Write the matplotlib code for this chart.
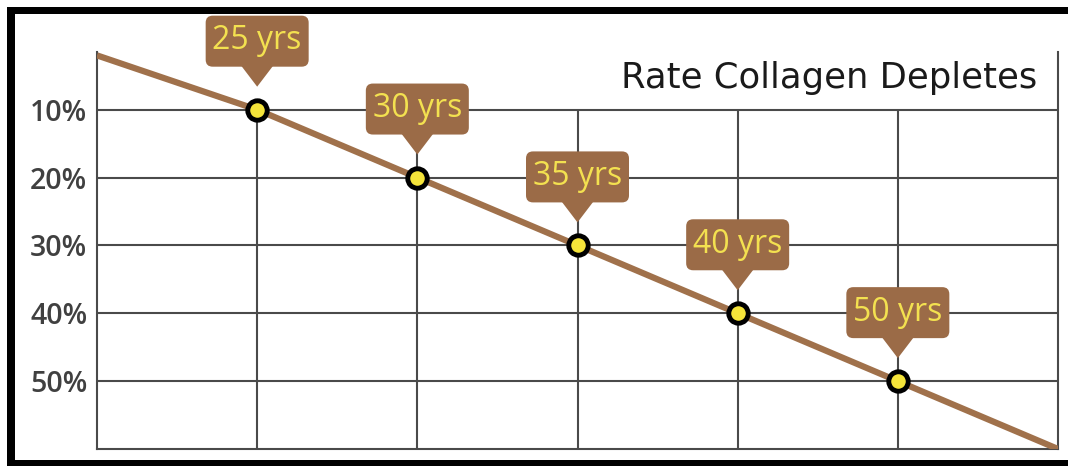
import numpy as np
import matplotlib
matplotlib.use("Agg")
import matplotlib.pyplot as plt
import matplotlib.transforms as mtransforms
from matplotlib.patches import Rectangle, FancyBboxPatch, Polygon

# data
line_x = [0, 1, 2, 3, 4, 5, 6]
line_y = [2, 10, 20, 30, 40, 50, 60]
point_x = [1, 2, 3, 4, 5]
point_y = [10, 20, 30, 40, 50]
ages = ["25 yrs", "30 yrs", "35 yrs", "40 yrs", "50 yrs"]
ytick_vals = [10, 20, 30, 40, 50]
ytick_labels = ["10%", "20%", "30%", "40%", "50%"]
title = "Rate Collagen Depletes"

BROWN = "#a0714b"
BOX = "#9b6b47"
YELLOW = "#f5e43a"
TXT_YEL = "#f3e150"
GRID = "#4a4a4a"

W, H = 1068, 466
fig = plt.figure(figsize=(W / 100, H / 100), dpi=100)
fig.patch.set_facecolor("white")
ax = fig.add_axes([97 / W, 1 - 449 / H, (1058 - 97) / W, (449 - 52) / H])

ax.set_xlim(0, 6)
ax.set_ylim(60, 1.5)

# grid
ax.hlines(ytick_vals, 0, 6, color=GRID, lw=1.5, zorder=1)
ax.vlines(point_x, 10, 60, color=GRID, lw=1.5, zorder=1)
for side in ["left", "right", "bottom"]:
    ax.spines[side].set_color(GRID)
    ax.spines[side].set_linewidth(1.5)
ax.spines["top"].set_visible(False)

ax.set_xticks([])
ax.set_yticks(ytick_vals)
ax.set_yticklabels(ytick_labels, fontsize=20.5, color="#404040",
                   fontfamily="Open Sans", fontweight="semibold")
ax.tick_params(axis="y", length=0, pad=7)

# line + points
ax.plot(line_x, line_y, color=BROWN, lw=4.5, zorder=3, solid_capstyle="butt")
ax.plot(point_x, point_y, "o", ms=14, mfc=YELLOW, mec="black", mew=3.5,
        zorder=4, linestyle="none")

# callouts (offsets in inches, dpi 100)
for x, y, lab in zip(point_x, point_y, ages):
    trans = fig.dpi_scale_trans + mtransforms.ScaledTranslation(x, y, ax.transData)
    box = FancyBboxPatch((-0.515, 0.43), 1.03, 0.51,
                         boxstyle="round,pad=0,rounding_size=0.07",
                         fc=BOX, ec="none", transform=trans, clip_on=False, zorder=5)
    ax.add_patch(box)
    tri = Polygon([(-0.16, 0.44), (0.16, 0.44), (0, 0.23)], closed=True,
                  fc=BOX, ec="none", transform=trans, clip_on=False, zorder=5)
    ax.add_patch(tri)
    ax.text(0, 0.69, lab, transform=trans, ha="center", va="center",
            fontsize=23, color=TXT_YEL, fontfamily="Open Sans", zorder=6)

ax.text(0.978, 0.909, title, transform=ax.transAxes, ha="right", va="baseline",
        fontsize=25.5, color="#1a1a1a", fontfamily="DejaVu Sans", zorder=6)

# black frame
fig.add_artist(Rectangle((7 / W, 1 - 14 / H), 1, 7 / H, transform=fig.transFigure,
                         fc="black", ec="none"))
fig.add_artist(Rectangle((7 / W, 0), 8 / W, 1 - 7 / H, transform=fig.transFigure,
                         fc="black", ec="none"))
fig.add_artist(Rectangle((7 / W, 0), 1, 6 / H, transform=fig.transFigure,
                         fc="black", ec="none"))

fig.savefig("out.png", dpi=100)
